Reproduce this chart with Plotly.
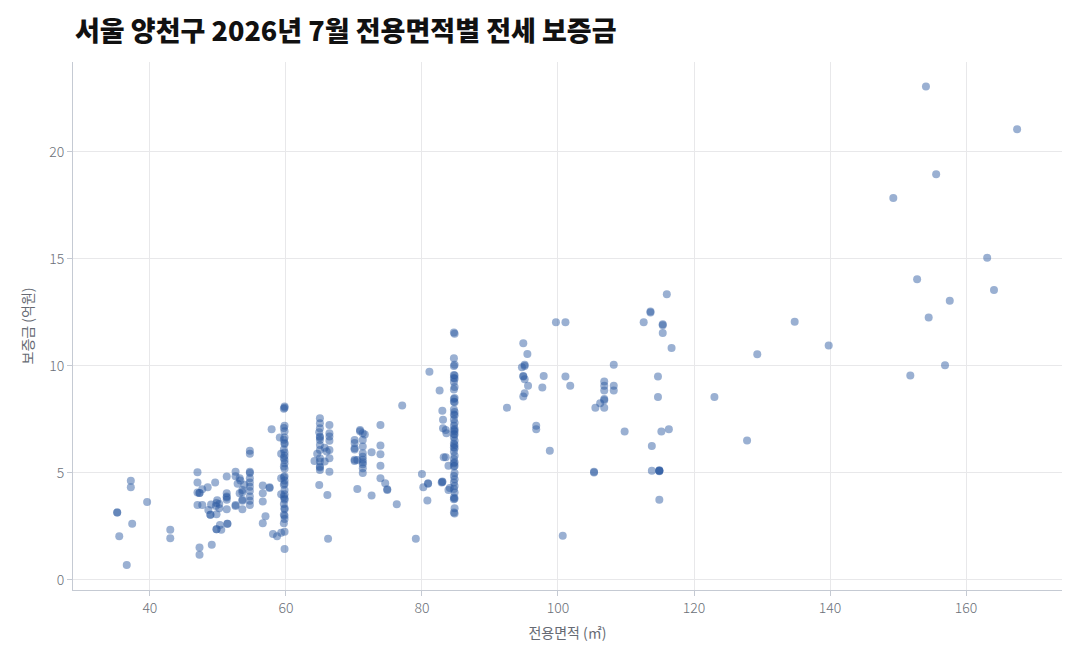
import plotly.graph_objects as go

# 전용면적 (m²)
area = [
    35.2, 35.2, 35.5, 36.6, 37.2, 37.2, 37.4, 39.6, 43.0, 43.0,
    47.0, 47.0, 47.0, 47.3, 47.3, 47.7, 47.0, 47.7, 47.3, 47.3,
    48.5, 49.6, 49.1, 48.9, 48.9, 48.6, 49.0, 49.7, 49.8, 49.9,
    50.2, 49.8, 49.8, 49.8, 50.5, 50.3, 50.2, 51.3, 51.3, 51.3,
    51.3, 51.3, 51.3, 51.4, 51.4, 52.6, 52.6, 53.2, 52.6, 52.6,
    53.2, 53.3, 53.6, 53.6, 53.6, 53.6, 53.6, 52.9, 53.9, 54.7,
    54.7, 54.7, 54.7, 54.7, 54.7, 54.7, 54.7, 54.7, 54.7, 54.7,
    56.6, 56.6, 56.6, 56.6, 57.0, 57.6, 57.6, 57.9, 58.1, 58.7,
    59.3, 59.1, 59.3, 59.3, 59.3,
    59.8, 59.8, 59.7, 59.8, 59.7, 59.8, 59.8, 59.7, 59.8, 59.8,
    59.7, 59.8, 59.8, 59.7, 59.8, 59.8, 59.7, 59.8, 59.8, 59.7,
    59.8, 59.8, 59.7, 59.8, 59.8, 59.7, 59.8, 59.8, 59.7, 59.8,
    59.8, 59.7, 59.8, 59.8, 59.7, 59.8, 59.8,
    65.0, 65.0, 65.0, 65.0, 65.0, 65.0, 65.0, 65.0, 65.0, 65.0,
    65.0, 65.0, 65.0, 64.9, 64.9,
    66.4, 66.4, 66.4, 66.4, 66.4, 66.4, 66.4, 64.2, 65.7, 65.7,
    64.6, 66.0, 66.1, 66.2,
    70.1, 70.1, 70.1, 70.1, 70.1, 70.1, 70.9, 70.9,
    71.3, 71.3, 71.3, 71.3, 71.3, 71.3, 71.3, 71.3, 71.3, 71.3,
    71.6, 70.5, 70.5, 72.6, 72.6, 73.9, 73.9, 73.9, 73.9, 73.9,
    74.6, 74.9, 74.9, 76.3, 77.1, 79.1,
    80.0, 80.2, 80.9, 80.9, 80.8, 81.1, 82.6, 83.0, 83.1, 83.1,
    83.6, 83.2, 83.5, 83.9, 83.0, 83.0, 84.1, 83.9, 83.5, 82.9,
    84.7, 84.8, 84.7, 84.8, 84.7, 84.7, 84.8, 84.7, 84.8, 84.7,
    84.8, 84.7, 84.8, 84.7, 84.7, 84.8, 84.7, 84.8, 84.7, 84.8,
    84.7, 84.8, 84.7, 84.8, 84.7, 84.8, 84.7, 84.8, 84.7, 84.8,
    84.7, 84.8, 84.7, 84.8, 84.7, 84.8, 84.7, 84.8, 84.7, 84.8,
    84.7, 84.8, 84.7, 84.8, 84.7, 84.8, 84.7, 84.8, 84.7, 84.8,
    84.7, 84.8, 84.7, 84.8,
    92.5, 94.9, 95.5, 95.1, 95.1, 94.7, 94.9, 94.9, 95.1, 95.6,
    95.1, 94.9, 96.8, 96.8, 97.9, 97.7, 98.8, 99.7, 101.1, 100.7,
    101.1, 101.8, 105.3, 105.3, 105.5, 106.2, 106.8, 106.8, 106.8, 106.8,
    106.8, 106.8, 108.2, 108.2, 108.2, 109.8, 112.6, 113.6, 113.6, 115.4,
    115.4, 115.4, 116.0, 116.7, 114.7, 114.7, 113.8, 115.2, 116.3, 113.8,
    114.9, 114.9, 114.9, 114.9, 114.9,
    123.0, 127.8, 129.3, 134.8, 139.8, 149.3, 151.8, 152.8, 154.1, 154.5,
    155.6, 156.9, 157.6, 163.1, 164.1, 167.5,
]

# 보증금 (억원)
deposit = [
    3.15, 3.15, 2.04, 0.70, 4.64, 4.33, 2.63, 3.64, 2.35, 1.95,
    5.03, 4.55, 4.08, 4.06, 4.06, 4.24, 3.50, 3.50, 1.51, 1.18,
    4.33, 4.55, 1.64, 3.05, 3.05, 3.27, 3.52, 3.45, 3.60, 3.72,
    3.55, 3.07, 2.37, 2.37, 2.35, 2.57, 3.35, 4.83, 4.05, 3.90,
    3.75, 3.85, 3.30, 2.62, 2.62, 5.05, 4.85, 4.75, 3.50, 3.45,
    4.05, 4.65, 4.20, 4.10, 3.70, 3.75, 3.30, 4.50, 4.45, 6.04,
    5.90, 5.05, 5.00, 4.75, 4.55, 4.35, 4.15, 3.90, 3.70, 3.50,
    4.41, 4.05, 3.67, 2.65, 2.98, 4.33, 4.30, 7.04, 2.15, 2.04,
    2.20, 6.65, 5.90, 4.75, 4.00,
    8.10, 8.05, 8.00, 7.20, 7.10, 6.95, 6.65, 6.55, 6.40, 6.35,
    6.10, 5.95, 5.80, 5.70, 5.60, 5.45, 5.30, 5.20, 4.85, 4.80,
    4.65, 4.50, 4.45, 4.20, 4.00, 3.90, 3.80, 3.75, 3.55, 3.35,
    3.30, 3.05, 3.00, 2.85, 2.65, 2.25, 1.45,
    7.55, 7.32, 7.09, 6.70, 6.65, 6.54, 6.31, 6.07, 5.68, 5.53,
    5.30, 5.25, 5.14, 4.44, 6.90,
    7.24, 6.85, 6.70, 6.07, 5.68, 5.06, 6.50, 5.56, 6.18, 5.53,
    5.90, 6.00, 3.97, 1.92,
    6.54, 6.40, 6.15, 6.10, 5.61, 5.56, 7.00, 6.95,
    6.85, 6.54, 6.23, 5.92, 5.76, 5.61, 5.50, 5.40, 5.22, 5.00,
    6.80, 4.25, 5.60, 3.94, 5.97, 7.24, 6.28, 5.87, 5.33, 4.75,
    4.52, 4.24, 4.20, 3.54, 8.15, 1.92,
    4.95, 4.33, 4.52, 4.50, 3.71, 9.73, 8.85, 7.91, 7.48, 7.09,
    6.85, 5.73, 5.73, 5.33, 4.60, 4.58, 4.30, 4.20, 7.00, 4.55,
    11.56, 11.50, 10.36, 10.05, 10.00, 9.58, 9.55, 9.44, 9.40, 9.25,
    9.02, 8.90, 8.50, 8.45, 8.33, 8.30, 7.96, 7.85, 7.73, 7.70,
    7.50, 7.35, 7.20, 7.05, 7.00, 6.95, 6.82, 6.80, 6.67, 6.50,
    6.36, 6.30, 6.20, 6.15, 6.00, 5.80, 5.65, 5.50, 5.45, 5.33,
    5.30, 5.00, 4.86, 4.70, 4.55, 4.39, 4.25, 4.08, 3.85, 3.80,
    3.77, 3.35, 3.15, 3.10,
    8.05, 11.06, 10.56, 10.05, 10.00, 9.94, 9.53, 9.50, 9.38, 9.07,
    8.72, 8.57, 7.20, 7.04, 9.53, 8.99, 6.04, 12.04, 12.04, 2.06,
    9.50, 9.07, 5.05, 5.02, 8.05, 8.26, 8.05, 8.46, 8.40, 8.85,
    9.07, 9.27, 10.05, 9.07, 8.85, 6.93, 12.04, 12.54, 12.50, 11.95,
    11.90, 11.54, 13.35, 10.84, 9.50, 8.55, 6.26, 6.93, 7.04, 5.10,
    5.10, 5.08, 5.10, 5.12, 3.75,
    8.55, 6.51, 10.54, 12.06, 10.95, 17.85, 9.55, 14.05, 23.05, 12.26,
    18.96, 10.03, 13.05, 15.05, 13.55, 21.06,
]

x_ticks = [40, 60, 80, 100, 120, 140, 160]
y_ticks = [0, 5, 10, 15, 20]

fig = go.Figure()
fig.add_trace(go.Scatter(
    x=area, y=deposit, mode="markers",
    marker=dict(color="#2c5aa0", opacity=0.48, size=8, line=dict(width=0)),
    showlegend=False,
))

axis_gray = "#c5cad3"
tick_font = dict(size=14, color="#6b6f78", family="Noto Sans CJK KR, Noto Sans, sans-serif", weight=300)
fig.update_layout(
    width=1080, height=660,
    paper_bgcolor="white", plot_bgcolor="white",
    margin=dict(l=65, r=26, t=54, b=78),
    font=dict(family="Noto Sans CJK KR, Noto Sans, sans-serif", color="#666a73", size=13),
    title=dict(
        text="서울 양천구 2026년 7월 전용면적별 전세 보증금",
        x=0.062, xanchor="left", y=0.965, yanchor="middle",
        font=dict(size=27, color="#111111", family="Noto Sans CJK KR, sans-serif", weight=900),
    ),
    xaxis=dict(
        range=[28.7, 174.1], tickvals=x_ticks, ticktext=[str(v) for v in x_ticks],
        tickfont=tick_font,
        showgrid=True, gridcolor="#e8e8ea", gridwidth=1, zeroline=False,
        showline=True, linecolor=axis_gray, linewidth=1,
        ticks="outside", ticklen=5, tickcolor=axis_gray,
        title=dict(text="전용면적 (㎡)", font=dict(size=14, color="#666a73"), standoff=12),
    ),
    yaxis=dict(
        range=[-0.47, 24.2], tickvals=y_ticks, ticktext=[str(v) for v in y_ticks],
        tickfont=tick_font,
        showgrid=True, gridcolor="#e8e8ea", gridwidth=1, zeroline=False,
        showline=True, linecolor=axis_gray, linewidth=1,
        ticks="outside", ticklen=5, tickcolor=axis_gray,
        title=dict(text="보증금 (억원)", font=dict(size=14, color="#666a73"), standoff=12),
    ),
)

fig.write_html("out.html")
